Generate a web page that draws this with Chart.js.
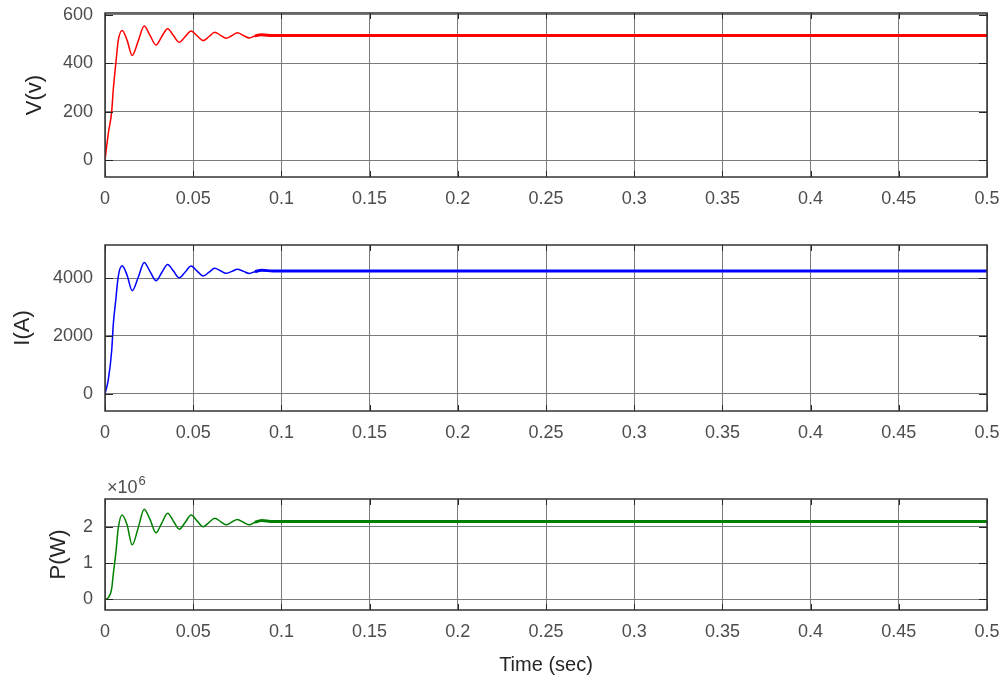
<!DOCTYPE html>
<html lang="en">

<head>
  <meta charset="UTF-8">
  <title>V / I / P vs time</title>
  <style>
    html, body {
      margin: 0;
      padding: 0;
      background: #fff;
    }

    #wrap {
      position: relative;
      width: 1006px;
      height: 685px;
      overflow: hidden;
    }

    .plot {
      position: absolute;
      left: 0;
      width: 1006px;
    }

    .plot--v { top: 0; height: 215px; }
    .plot--i { top: 230px; height: 222px; }
    .plot--p { top: 470px; height: 215px; }
  </style>
</head>

<body>
  <div id="wrap">
    <div class="plot plot--v"><canvas id="chartV"></canvas></div>
    <div class="plot plot--i"><canvas id="chartI"></canvas></div>
    <div class="plot plot--p"><canvas id="chartP"></canvas></div>
  </div>

  <script src="https://cdn.jsdelivr.net/npm/chart.js@4.4.1/dist/chart.umd.min.js"></script>
  <script>
    // time axis (sec) - shared by all three traces
    const time = [0, 0.0019, 0.0038, 0.0047, 0.0062, 0.0075, 0.0097, 0.0125, 0.0154, 0.019, 0.0222, 0.0255, 0.0289,
      0.0322, 0.0355, 0.0388, 0.0421, 0.0455, 0.0488, 0.0522, 0.0557, 0.059, 0.0622, 0.0655, 0.0686, 0.072,
      0.075, 0.0785, 0.0818, 0.085, 0.0888, 0.095, 0.1, 0.15, 0.2, 0.25, 0.3, 0.35, 0.4, 0.45, 0.5];

    // V(v)
    const voltage = [0, 111, 201, 292, 403, 493, 535, 495, 432, 495, 553, 515, 475,
      510, 542, 514, 486, 510, 533, 513, 493, 510, 528, 515, 503, 514,
      525, 514, 504, 512, 517, 514, 514, 514, 514, 514, 514, 514, 514, 514, 514];

    // I(A)
    const current = [0, 500, 1500, 2400, 3300, 4050, 4420, 4100, 3560, 4050, 4540, 4230, 3910,
      4190, 4470, 4240, 4010, 4210, 4414, 4240, 4069, 4200, 4334, 4250, 4161, 4230,
      4300, 4230, 4160, 4220, 4270, 4241, 4240, 4240, 4240, 4240, 4240, 4240, 4240, 4240, 4240];

    // P(W)
    const power = [0, 0.05e6, 0.3e6, 0.7e6, 1.3e6, 1.95e6, 2.32e6, 2.05e6, 1.5e6, 2.0e6, 2.48e6, 2.2e6, 1.83e6,
      2.1e6, 2.37e6, 2.15e6, 1.93e6, 2.12e6, 2.32e6, 2.16e6, 2.0e6, 2.12e6, 2.23e6, 2.14e6, 2.05e6, 2.13e6,
      2.2e6, 2.12e6, 2.05e6, 2.12e6, 2.17e6, 2.14e6, 2.14e6, 2.14e6, 2.14e6, 2.14e6, 2.14e6, 2.14e6, 2.14e6, 2.14e6, 2.14e6];

    // tick values
    const xTicks = [0, 0.05, 0.1, 0.15, 0.2, 0.25, 0.3, 0.35, 0.4, 0.45, 0.5];
    const vTicks = [0, 200, 400, 600];
    const iTicks = [0, 2000, 4000];
    const pTicks = [0, 1e6, 2e6];

    const FONT = "'Liberation Sans', Arial, Helvetica, sans-serif";
    const TICK_CL = '#4d4d4d';
    const GRID_CL = '#7a7a7a';

    // MATLAB 스타일 박스 + 안쪽 눈금 + ×10^6 표기
    const boxPlugin = {
      id: 'box',
      afterDraw(chart, args, opts) {
        const { ctx, chartArea: a, scales } = chart;
        ctx.save();
        ctx.strokeStyle = '#262626';
        ctx.lineWidth = 1;
        // inner tick marks
        ctx.beginPath();
        scales.x.ticks.forEach(t => {
          const px = Math.round(scales.x.getPixelForValue(t.value)) + 0.5;
          ctx.moveTo(px, a.bottom); ctx.lineTo(px, a.bottom - 6);
          ctx.moveTo(px, a.top); ctx.lineTo(px, a.top + 6);
        });
        scales.y.ticks.forEach(t => {
          const py = Math.round(scales.y.getPixelForValue(t.value)) + 0.5;
          ctx.moveTo(a.left, py); ctx.lineTo(a.left + 8, py);
          ctx.moveTo(a.right, py); ctx.lineTo(a.right - 8, py);
        });
        ctx.stroke();
        // box
        ctx.lineWidth = 1.5;
        ctx.strokeStyle = '#333';
        ctx.strokeRect(a.left, a.top, a.right - a.left, a.bottom - a.top);
        // exponent label
        if (opts && opts.exponent) {
          ctx.fillStyle = TICK_CL;
          ctx.textBaseline = 'alphabetic';
          ctx.font = '18px ' + FONT;
          ctx.fillText('\u00d710', a.left + 2, a.top - 6);
          const w = ctx.measureText('\u00d710').width;
          ctx.font = '13px ' + FONT;
          ctx.fillText(opts.exponent, a.left + 3 + w, a.top - 14);
        }
        ctx.restore();
      }
    };

    function makeChart(id, values, color, yTicks, yMin, yMax, cfg) {
      const fixTicks = list => scale => { scale.ticks = list.map(v => ({ value: v })); };
      return new Chart(document.getElementById(id), {
        type: 'line',
        plugins: [boxPlugin],
        data: {
          labels: time,
          datasets: [{
            data: time.map((t, i) => ({ x: t, y: values[i] })),
            borderColor: color,
            borderWidth: 1.5,
            pointRadius: 0,
            fill: false,
            cubicInterpolationMode: 'monotone',
            segment: {
              borderWidth: c => c.p0.parsed.x >= 0.084 ? 3 : 1.5
            }
          }]
        },
        options: {
          responsive: true,
          maintainAspectRatio: false,
          animation: false,
          layout: {
            padding: { top: cfg.top, right: 19, left: 0, bottom: 0 }
          },
          plugins: {
            legend: { display: false },
            tooltip: { enabled: false },
            box: { exponent: cfg.exponent || null }
          },
          scales: {
            x: {
              type: 'linear',
              min: 0,
              max: 0.5,
              afterBuildTicks: fixTicks(xTicks),
              afterFit: s => { s.height = cfg.xHeight; s.paddingLeft = 0; s.paddingRight = 0; },
              grid: { color: GRID_CL, lineWidth: 1, drawTicks: false },
              border: { display: false },
              ticks: {
                color: TICK_CL,
                font: { family: FONT, size: 18 },
                padding: 11,
                maxRotation: 0,
                autoSkip: false,
                callback: v => String(+v.toFixed(2))
              },
              title: {
                display: !!cfg.xTitle,
                text: cfg.xTitle || '',
                color: '#262626',
                font: { family: FONT, size: 20 },
                padding: { top: 0, bottom: 8 }
              }
            },
            y: {
              type: 'linear',
              min: yMin,
              max: yMax,
              afterBuildTicks: fixTicks(yTicks),
              afterFit: s => { s.width = 105; s.paddingTop = 0; s.paddingBottom = 0; },
              grid: { color: GRID_CL, lineWidth: 1, drawTicks: false },
              border: { display: false },
              ticks: {
                color: TICK_CL,
                font: { family: FONT, size: 18 },
                padding: 12,
                autoSkip: false,
                callback: v => cfg.exponent ? String(v / 1e6) : String(v)
              },
              title: {
                display: true,
                text: cfg.yTitle,
                color: '#262626',
                font: { family: FONT, size: 22 },
                padding: { top: cfg.yTitlePad, bottom: 0 }
              }
            }
          }
        }
      });
    }

    makeChart('chartV', voltage, '#ff0000', vTicks, -70, 607,
      { top: 13, xHeight: 38, yTitle: 'V(v)', yTitlePad: 22 });
    makeChart('chartI', current, '#0000ff', iTicks, -590, 5140,
      { top: 15, xHeight: 41, yTitle: 'I(A)', yTitlePad: 10 });
    makeChart('chartP', power, '#008000', pTicks, -0.29e6, 2.76e6,
      { top: 29, xHeight: 75, yTitle: 'P(W)', yTitlePad: 46, exponent: '6', xTitle: 'Time (sec)' });
  </script>
</body>

</html>
